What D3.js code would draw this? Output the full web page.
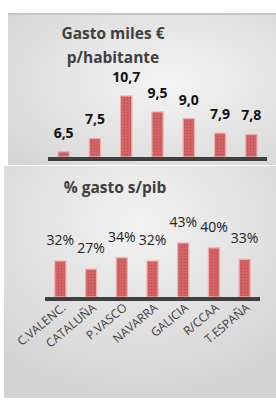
<!DOCTYPE html>
<html>
<head>
<meta charset="utf-8">
<script src="https://cdn.jsdelivr.net/npm/d3@7"></script>
<style>
  body { margin: 0; background: #fff; }
  svg { display: block; font-family: "Open Sans", "Liberation Sans", sans-serif; }
</style>
</head>
<body>
<svg id="chart" width="276" height="403"></svg>
<script>
// categories and values
var regiones = ["C.VALENC.", "CATALUÑA", "P.VASCO", "NAVARRA", "GALICIA", "R/CCAA", "T.ESPAÑA"];
var gastoHab = [6.5, 7.5, 10.7, 9.5, 9.0, 7.9, 7.8];
var gastoPib = [32, 27, 34, 32, 43, 40, 33];
var tituloHab = ["Gasto miles €", "p/habitante"];
var tituloPib = "% gasto s/pib";

var fmtComa = function(v) { return d3.format(".1f")(v).replace(".", ","); };
var fmtPct = function(v) { return v + "%"; };

var svg = d3.select("#chart");
var defs = svg.append("defs");

//---------------- fondos y trama ----------------
function radial(id, inner, outer, cx, cy) {
	var g = defs.append("radialGradient").attr("id", id)
		.attr("cx", cx).attr("cy", cy).attr("r", "75%");
	g.append("stop").attr("offset", "0%").attr("stop-color", inner);
	g.append("stop").attr("offset", "100%").attr("stop-color", outer);
}
radial("bgTop", "#f4f4f4", "#d6d6d6", "60%", "45%");
radial("bgBot", "#f2f2f2", "#d4d4d4", "50%", "25%");

var pat = defs.append("pattern").attr("id", "trama")
	.attr("width", 3).attr("height", 3).attr("patternUnits", "userSpaceOnUse");
pat.append("rect").attr("width", 3).attr("height", 3).attr("fill", "#d26264");
pat.append("rect").attr("x", 1).attr("y", 1).attr("width", 1).attr("height", 1).attr("fill", "#bb4c4e");

//---------------- panel superior ----------------
svg.append("rect").attr("x", 8).attr("y", 13).attr("width", 268).attr("height", 152)
	.attr("fill", "url(#bgTop)");
svg.append("rect").attr("x", 8).attr("y", 13).attr("width", 268).attr("height", 2)
	.attr("fill", "#c4c4c4");

//---------------- panel inferior ----------------
svg.append("rect").attr("x", 4).attr("y", 166).attr("width", 272).attr("height", 232)
	.attr("fill", "url(#bgBot)");

function drawChart(opts) {
	var x = d3.scaleBand()
		.domain(regiones)
		.range(opts.xRange)
		.paddingInner(0.64)
		.paddingOuter(0.32);

	var y = d3.scaleLinear()
		.domain(opts.yDomain)
		.range(opts.yRange);

	var g = svg.append("g");

	g.selectAll("rect.bar")
		.data(opts.values)
		.enter().append("rect")
		.attr("class", "bar")
		.attr("x", function(d, i) { return x(regiones[i]); })
		.attr("y", function(d) { return y(d); })
		.attr("width", x.bandwidth())
		.attr("height", function(d) { return opts.yRange[0] - y(d); })
		.attr("fill", "url(#trama)")
		.attr("stroke", "#eeb0b0")
		.attr("stroke-width", 1.2);

	// eje horizontal grueso
	g.append("line")
		.attr("x1", opts.xRange[0]).attr("x2", opts.xRange[1])
		.attr("y1", opts.yRange[0] + 2).attr("y2", opts.yRange[0] + 2)
		.attr("stroke", "#404040")
		.attr("stroke-width", 4);

	g.selectAll("text.val")
		.data(opts.values)
		.enter().append("text")
		.attr("class", "val")
		.attr("x", function(d, i) { return x(regiones[i]) + x.bandwidth() / 2; })
		.attr("y", function(d) { return y(d) - opts.labelGap; })
		.attr("text-anchor", "middle")
		.attr("font-size", 14)
		.attr("font-weight", opts.bold ? "bold" : "normal")
		.attr("fill", opts.bold ? "#111" : "#222")
		.text(opts.fmt);

	return x;
}

drawChart({
	values: gastoHab,
	xRange: [48, 267],
	yDomain: [6.1, 10.7],
	yRange: [157, 96],
	labelGap: 14,
	bold: true,
	fmt: fmtComa
});

var xBot = drawChart({
	values: gastoPib,
	xRange: [45, 260],
	yDomain: [10, 43],
	yRange: [297, 243],
	labelGap: 16,
	bold: false,
	fmt: fmtPct
});

// títulos
svg.append("text")
	.attr("x", 113).attr("y", 39)
	.attr("text-anchor", "middle")
	.attr("font-size", 15.5).attr("font-weight", "bold").attr("fill", "#404040")
	.selectAll("tspan")
	.data(tituloHab)
	.enter().append("tspan")
	.attr("x", 113)
	.attr("dy", function(d, i) { return i ? 24 : 0; })
	.text(function(d) { return d; });

svg.append("text")
	.attr("x", 115).attr("y", 193)
	.attr("text-anchor", "middle")
	.attr("font-size", 15.5).attr("font-weight", "bold").attr("fill", "#404040")
	.text(tituloPib);

// etiquetas de categoría, giradas
svg.selectAll("text.cat")
	.data(regiones)
	.enter().append("text")
	.attr("class", "cat")
	.attr("text-anchor", "end")
	.attr("font-size", 12)
	.attr("fill", "#404040")
	.attr("transform", function(d) {
		var cx = xBot(d) + xBot.bandwidth() / 2 + 6;
		return "translate(" + cx + ",309) rotate(-40)";
	})
	.text(function(d) { return d; });
</script>
</body>
</html>
